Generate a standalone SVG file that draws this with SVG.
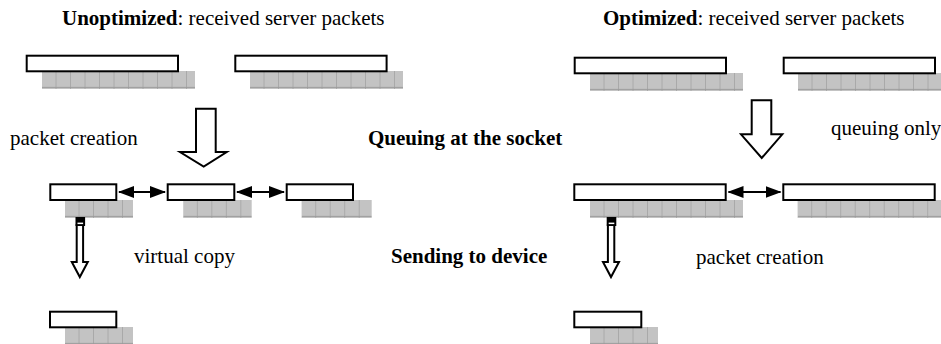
<svg xmlns="http://www.w3.org/2000/svg" width="941" height="344" viewBox="0 0 941 344">
<style>
.t{font-family:"Times New Roman","Liberation Serif","DejaVu Serif",serif;font-size:21px;fill:#000}
.b{font-weight:bold}
.pkt{fill:#fff;stroke:#000;stroke-width:2}
.sh{fill:url(#grid)}
.big{fill:#fff;stroke:#000;stroke-width:2;stroke-linejoin:miter}
.link{stroke:#000;stroke-width:2;fill:none;marker-start:url(#ah);marker-end:url(#ah)}
</style>
<defs>
<pattern id="grid" patternUnits="userSpaceOnUse" width="14.5" height="18">
<rect width="14.5" height="18" fill="#c3c3c3"/>
<rect x="13.9" y="0" width="0.9" height="18" fill="#999"/>
<rect x="0" y="15.9" width="14.5" height="0.9" fill="#999"/>
</pattern>
<marker id="ah" markerUnits="userSpaceOnUse" markerWidth="16" markerHeight="12" refX="15" refY="6" orient="auto-start-reverse">
<path d="M0,0 L16,6 L0,12 z" fill="#000"/>
</marker>
<g id="downArrow">
<polygon class="big" points="1.2,8 7.6,8 7.6,45 12.3,45 4.3,60 -3.7,45 1.2,45"/>
<rect x="0" y="0" width="9.6" height="9" fill="#000"/>
<rect x="2" y="5.6" width="5.6" height="1.5" fill="#fff"/>
</g>
</defs>
<rect width="941" height="344" fill="#fff"/>

<text class="t" x="62" y="25"><tspan class="b">Unoptimized</tspan>: received server packets</text>
<text class="t" x="603" y="25"><tspan class="b">Optimized</tspan>: received server packets</text>
<text class="t" x="10" y="145">packet creation</text>
<text class="t b" x="368" y="145">Queuing at the socket</text>
<text class="t" x="831" y="135">queuing only</text>
<text class="t" x="134" y="263">virtual copy</text>
<text class="t b" x="391" y="263">Sending to device</text>
<text class="t" x="696" y="264">packet creation</text>

<g id="u-top-1"><g transform="translate(42,71)"><rect class="sh" width="153" height="18"/></g><rect class="pkt" x="26.7" y="55.7" width="151.3" height="15.6"/></g>
<g id="u-top-2"><g transform="translate(250,71)"><rect class="sh" width="153" height="18"/></g><rect class="pkt" x="235.3" y="55.7" width="151.3" height="15.6"/></g>
<g id="o-top-1"><g transform="translate(590,73)"><rect class="sh" width="153" height="18"/></g><rect class="pkt" x="574.7" y="57.7" width="151.3" height="15.6"/></g>
<g id="o-top-2"><g transform="translate(798,73)"><rect class="sh" width="143" height="18"/></g><rect class="pkt" x="783.7" y="57.7" width="151.3" height="15.6"/></g>

<g id="u-q-1"><g transform="translate(65,200)"><rect class="sh" width="68" height="18"/></g><rect class="pkt" x="50.3" y="184.3" width="66" height="15.7"/></g>
<g id="u-q-2"><g transform="translate(183.3,200)"><rect class="sh" width="68.4" height="18"/></g><rect class="pkt" x="167.7" y="184.3" width="66.6" height="15.7"/></g>
<g id="u-q-3"><g transform="translate(301.7,200)"><rect class="sh" width="70" height="18"/></g><rect class="pkt" x="286.7" y="184.3" width="66.3" height="15.7"/></g>
<g id="o-q-1"><g transform="translate(590,200)"><rect class="sh" width="153" height="18"/></g><rect class="pkt" x="574.3" y="184.3" width="151.4" height="15.7"/></g>
<g id="o-q-2"><g transform="translate(797.7,200)"><rect class="sh" width="143.3" height="18"/></g><rect class="pkt" x="783.3" y="184.3" width="151.4" height="15.7"/></g>

<g id="u-dev"><g transform="translate(65,327)"><rect class="sh" width="68" height="17"/></g><rect class="pkt" x="50" y="311.7" width="66.3" height="15.6"/></g>
<g id="o-dev"><g transform="translate(590,327)"><rect class="sh" width="68" height="17"/></g><rect class="pkt" x="574.3" y="311.7" width="67" height="15.6"/></g>

<g id="connectors">
<polygon class="big" points="196,108.7 215.7,108.7 215.7,152 226.7,152 203.7,166.5 180,152 196,152"/>
<polygon class="big" points="751.7,100.3 771.3,100.3 771.3,134.3 782.3,134.3 761.7,158 741,134.3 751.7,134.3"/>
<line class="link" x1="119" y1="192" x2="165" y2="192"/>
<line class="link" x1="237" y1="192" x2="284" y2="192"/>
<line class="link" x1="728.5" y1="192" x2="780.5" y2="192"/>
<use href="#downArrow" x="75.5" y="217"/>
<use href="#downArrow" x="606.7" y="217"/>
</g>
</svg>
